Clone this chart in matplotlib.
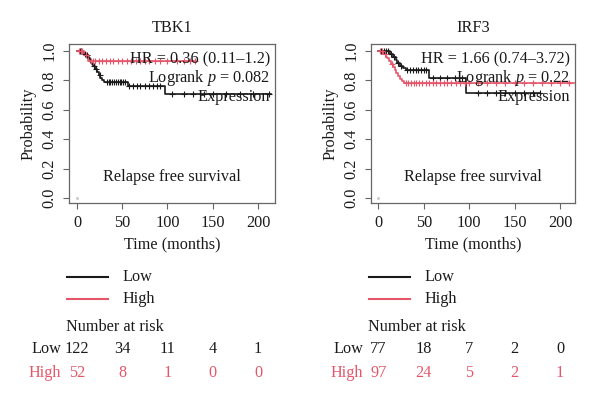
import matplotlib
matplotlib.use("Agg")
import matplotlib.pyplot as plt
from matplotlib.transforms import blended_transform_factory

plt.rcParams['font.family'] = ['Liberation Serif', 'DejaVu Serif']
plt.rcParams['mathtext.fontset'] = 'custom'
plt.rcParams['mathtext.rm'] = 'Liberation Serif'
plt.rcParams['mathtext.it'] = 'Liberation Serif:italic'

BLACK = '#1a1a1a'
RED = '#e5566b'
SPINE = '#666666'

# ---------------- data ----------------
genes = ["TBK1", "IRF3"]
hr_texts = ["HR = 0.36 (0.11–1.2)", "HR = 1.66 (0.74–3.72)"]
p_texts = ["0.082", "0.22"]

# TBK1
tbk1_low_t = [0, 6, 8, 10, 12, 13, 14, 15, 16, 17, 18, 20, 22, 24, 26, 28, 30, 56, 97]
tbk1_low_s = [1.0, 0.99, 0.98, 0.97, 0.96, 0.95, 0.94, 0.93, 0.92, 0.91, 0.895, 0.88, 0.86, 0.84, 0.82, 0.80, 0.787, 0.762, 0.705]
tbk1_low_end = 214
tbk1_low_cens = [3, 5, 9, 11, 19, 21, 25, 33, 35, 37, 39, 41, 43, 45, 47, 49, 51, 53, 58, 62, 66, 70, 75,
                 80, 84, 88, 92, 105, 118, 128, 140, 150, 165, 180, 195, 212]

tbk1_high_t = [0, 8, 12]
tbk1_high_s = [1.0, 0.97, 0.932]
tbk1_high_end = 130
tbk1_high_cens = [2, 4, 6, 10, 15, 18, 20, 24, 28, 32, 36, 40, 45, 50, 55, 60, 65, 70, 75, 80, 86, 92,
                  100, 110, 118, 125, 130]

# IRF3
irf3_low_t = [0, 13, 16, 19, 21, 24, 27, 30, 56, 96]
irf3_low_s = [1.0, 0.98, 0.96, 0.94, 0.92, 0.90, 0.885, 0.873, 0.82, 0.715]
irf3_low_end = 178
irf3_low_cens = [3, 6, 9, 11, 14, 17, 22, 25, 32, 35, 38, 41, 44, 47, 50, 53, 60, 68, 76, 84, 92,
                 110, 120, 130, 140, 150, 160, 170, 178]

irf3_high_t = [0, 5, 8, 10, 12, 14, 16, 18, 20, 22, 24, 26, 28]
irf3_high_s = [1.0, 0.98, 0.96, 0.95, 0.93, 0.91, 0.89, 0.87, 0.85, 0.83, 0.81, 0.795, 0.785]
irf3_high_end = 215
irf3_high_cens = [2, 4, 7, 15, 30, 33, 36, 39, 42, 45, 48, 52, 56, 60, 64, 68, 72, 76, 80, 85, 90, 95,
                  100, 110, 120, 130, 140, 150, 160, 170, 180, 190, 200, 210]

risk_times = [0, 50, 100, 150, 200]
tbk1_risk_low = [122, 34, 11, 4, 1]
tbk1_risk_high = [52, 8, 1, 0, 0]
irf3_risk_low = [77, 18, 7, 2, 0]
irf3_risk_high = [97, 24, 5, 2, 1]

xticks = [0, 50, 100, 150, 200]
yticks = [0.0, 0.2, 0.4, 0.6, 0.8, 1.0]
ytick_labels = ["0.0", "0.2", "0.4", "0.6", "0.8", "1.0"]

curves = [
    [(tbk1_low_t, tbk1_low_s, tbk1_low_end, tbk1_low_cens, BLACK),
     (tbk1_high_t, tbk1_high_s, tbk1_high_end, tbk1_high_cens, RED)],
    [(irf3_low_t, irf3_low_s, irf3_low_end, irf3_low_cens, BLACK),
     (irf3_high_t, irf3_high_s, irf3_high_end, irf3_high_cens, RED)],
]
risks = [(tbk1_risk_low, tbk1_risk_high), (irf3_risk_low, irf3_risk_high)]

# ---------------- figure ----------------
W, H = 600, 403
fig = plt.figure(figsize=(W / 100, H / 100), dpi=100)


def fx(px):
    return px / W


def fy(py):
    return 1 - py / H


def surv_at(ts, ss, t):
    val = ss[0]
    for ti, si in zip(ts, ss):
        if t >= ti:
            val = si
    return val


panels = [
    dict(left=69, right=275, xlim=(-8.8, 218.8), off=0),
    dict(left=371, right=575, xlim=(-8.0, 216.5), off=302),
]
top, bottom = 44, 203
FS = 11.7

for i, p in enumerate(panels):
    ax = fig.add_axes([fx(p['left']), fy(bottom), (p['right'] - p['left']) / W, (bottom - top) / H])
    ax.set_xlim(*p['xlim'])
    ax.set_ylim(-0.034, 1.048)
    for sp in ax.spines.values():
        sp.set_color(SPINE)
        sp.set_linewidth(0.9)
    ax.set_xticks(xticks)
    ax.set_xticklabels([str(v) for v in xticks], fontsize=FS, color=BLACK)
    ax.set_yticks(yticks)
    ax.set_yticklabels(ytick_labels, fontsize=FS, color=BLACK, rotation=90, va='center')
    ax.tick_params(axis='both', color=SPINE, length=4, width=0.8, pad=4.5)

    for ts, ss, end, cens, col in curves[i]:
        xs = list(ts) + [end]
        ys = list(ss) + [ss[-1]]
        ax.step(xs, ys, where='post', color=col, lw=1.2, zorder=3)
        cy = [surv_at(ts, ss, c) for c in cens]
        ax.plot(cens, cy, ls='none', marker='+', ms=4, mew=0.8, color=col, zorder=4)

    ax.plot([0], [0], ls='none', marker='o', ms=1.2, color='#cccccc')

    # annotations
    xr = p['right'] - 5
    fig.text(fx(xr), fy(59), hr_texts[i], ha='right', va='center', fontsize=FS, color=BLACK, zorder=5)
    fig.text(fx(xr), fy(78), "Logrank $p$ = " + p_texts[i], ha='right', va='center', fontsize=FS,
             color=BLACK, zorder=5)
    fig.text(fx(xr), fy(97), "Expression", ha='right', va='center', fontsize=FS, color=BLACK, zorder=5)
    cx = (p['left'] + p['right']) / 2
    fig.text(fx(cx), fy(177), "Relapse free survival", ha='center', va='center', fontsize=FS, color=BLACK)

    # titles and axis labels
    fig.text(fx(cx), fy(28), genes[i], ha='center', va='center', fontsize=FS, color=BLACK)
    fig.text(fx(28 + p['off']), fy((top + bottom) / 2), "Probability", rotation=90,
             ha='center', va='center', fontsize=FS, color=BLACK)
    fig.text(fx(cx), fy(244), "Time (months)", ha='center', va='center', fontsize=FS, color=BLACK)

    # legend
    o = p['off']
    fig.add_artist(plt.Line2D([fx(67 + o), fx(108 + o)], [fy(277), fy(277)], color=BLACK, lw=1.5))
    fig.add_artist(plt.Line2D([fx(67 + o), fx(108 + o)], [fy(299), fy(299)], color=RED, lw=1.5))
    fig.text(fx(122 + o), fy(277), "Low", ha='left', va='center', fontsize=FS, color=BLACK)
    fig.text(fx(122 + o), fy(299), "High", ha='left', va='center', fontsize=FS, color=BLACK)
    fig.text(fx(66 + o), fy(327), "Number at risk", ha='left', va='center', fontsize=FS, color=BLACK)

    # risk table
    tr = blended_transform_factory(ax.transData, fig.transFigure)
    low_r, high_r = risks[i]
    fig.text(fx(61 + o), fy(349), "Low", ha='right', va='center', fontsize=FS, color=BLACK)
    fig.text(fx(61 + o), fy(373), "High", ha='right', va='center', fontsize=FS, color=RED)
    for t, lv, hv in zip(risk_times, low_r, high_r):
        ax.text(t, fy(349), str(lv), transform=tr, ha='center', va='center', fontsize=FS, color=BLACK,
                clip_on=False)
        ax.text(t, fy(373), str(hv), transform=tr, ha='center', va='center', fontsize=FS, color=RED,
                clip_on=False)

fig.savefig("out.png", dpi=100)
